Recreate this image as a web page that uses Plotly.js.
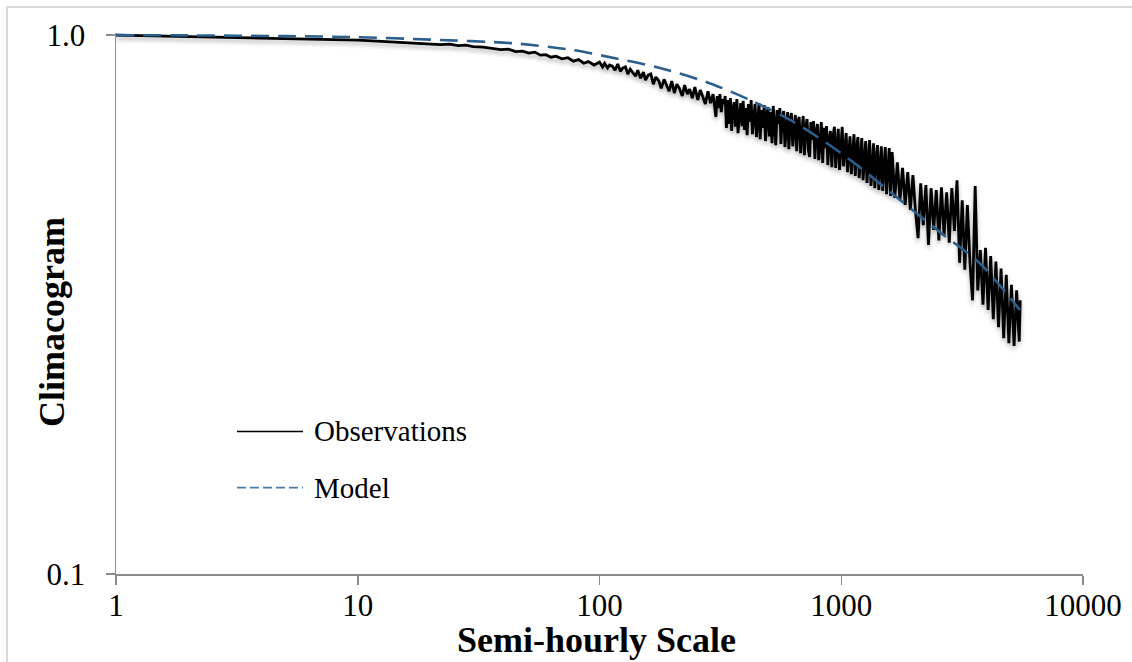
<!DOCTYPE html>
<html>
<head>
<meta charset="utf-8">
<script src="https://cdn.plot.ly/plotly-3.0.1.min.js"></script>
<style>
  html, body { margin: 0; padding: 0; background: #ffffff; }
  #frame { position: absolute; left: 6px; top: 6px; right: 0; bottom: 0;
           border-top: 2px solid #d9d9d9; border-left: 2px solid #d9d9d9; pointer-events: none; }
  #chart { width: 1132px; height: 662px; }
  .obs-shadow path.js-line { filter: drop-shadow(0px 3px 2px rgba(0,0,0,0.3)); }
</style>
</head>
<body>
<div id="chart"></div>
<div id="frame"></div>
<script>
// ---- Data ----
// Observations: semi-hourly scale k and climacogram value
const obsScale = [
  1,2,3,4,5,6,8,10,12,14, 16,18,20,22,24,26,28,30,33,36, 39,42,45,48,51,54,57,60,63,66, 70,74,78,82,86,90,95,100,
  103,105,108,110,113,116,119,122,125,128, 131,134,137,141,144,148,152,155,159,163,
  167,171,176,180,185,189,194,199,204,209, 214,220,225,231,236,242,248,255,261,268, 274,281,288,295,300,
  303,307,311,315,319,323,327,331,335,339,
  343,348,352,356,361,365,370,374,379,384,
  389,393,398,403,408,413,419,424,429,435,
  440,446,451,457,462,468,474,480,486,492,
  498,504,510,517,523,530,536,543,550,557,
  563,570,578,585,592,600,607,615,622,630,
  638,646,654,662,670,679,687,696,704,713,
  722,731,740,749,759,768,778,787,797,807,
  817,827,838,848,859,869,880,891,902,914,
  925,937,948,960,972,984,997,1009,1022,1035,
  1048,1061,1074,1087,1101,1115,1129,1143,1157,1172,
  1186,1201,1216,1231,1247,1262,1278,1294,1310,1327,
  1343,1360,1377,1394,1412,1430,1447,1465,1484,1502,
  1521,1540,1559,1579,
  1600,1624,1665,1707,1749,1793,1838,1884,1931,1979,
  2029,2079,2131,2185,2239,2295,2353,2412,2472,2534,
  2597,2662,2729,2797,2867,2939,3012,3087,3165,3244,
  3325,3408,3493,3581,3670,3762,3856,3952,4051,4152,
  4256,4363,4472,4583,4698,4815,4936,5059,5186,5315,
  5448,5500];
const obsValue = [
  1.000,0.994,0.989,0.987,0.985,0.984,0.982,0.979,0.975,0.971, 0.968,0.966,0.964,0.960,0.962,0.956,0.958,0.952,0.950,0.946,
  0.940,0.942,0.932,0.934,0.926,0.930,0.918,0.920,0.910,0.914, 0.904,0.908,0.895,0.901,0.887,0.893,0.880,0.891,
  .873,.887,.869,.880,.876,.861,.884,.857,.869,.873, .847,.865,.854,.839,.861,.832,.854,.825,.843,.847,
  .811,.836,.822,.797,.828,.808,.787,.822,.781,.811, .797,.771,.808,.777,.794,.764,.801,.758,.791,.767, .745,.787,.748,.777,.739,
  .705,.771,.732,.777,.720,.761,.745,.771,.673,.758,
  .684,.764,.664,.726,.751,.676,.761,.658,.711,.748,
  .678,.755,.667,.732,.652,.745,.690,.758,.655,.720,
  .745,.647,.702,.748,.641,.726,.673,.742,.636,.708,
  .735,.649,.720,.630,.739,.664,.625,.726,.684,.732,
  .628,.702,.723,.620,.681,.720,.614,.696,.717,.622,
  .664,.711,.609,.690,.705,.604,.652,.708,.599,.673,
  .699,.612,.594,.690,.639,.693,.589,.661,.684,.586,
  .625,.690,.579,.673,.617,.678,.574,.639,.664,.569,
  .649,.676,.567,.612,.670,.562,.639,.676,.571,.625,
  .658,.557,.612,.649,.552,.599,.655,.548,.617,.647,
  .543,.586,.644,.538,.579,.636,.532,.591,.639,.525,
  .562,.630,.520,.586,.625,.516,.557,.622,.514,.574,
  .620,.507,.548,.617,
  .503,.607,.499,.581,.494,.567,.484,.557,.474,.550,
  .470,.420,.531,.444,.527,.408,.520,.435,.516,.416,
  .522,.425,.511,.412,.520,.433,.538,.378,.494,.367,
  .484,.378,.322,.525,.336,.399,.316,.403,.309,.389,
  .297,.380,.287,.369,.274,.359,.268,.344,.265,.336,
  .270,.322];

// Model curve
const modelScale = [1,2,5,10,20,44,78,120,173,278,419,614,873,1161,1592,2560,3750,5485];
const modelValue = [1.000,0.999,0.996,0.9915,0.981,0.966,0.938,0.903,0.872,0.818,0.758,0.696,0.630,0.574,0.512,0.431,0.377,0.309];

const xTickVals = [1,10,100,1000,10000];
const xTickText = ['1','10','100','1000','10000'];
const yTickVals = [0.1,1];
const yTickText = ['0.1','1.0'];
const seriesNames = ['Observations','Model'];
const xTitle = 'Semi-hourly Scale';
const yTitle = 'Climacogram';

const serif = '"Liberation Serif", "Times New Roman", serif';
const axisGray = '#8c8c8c';
const modelColor = '#2C5F8E';

const traces = [
  { x: obsScale, y: obsValue, type: 'scatter', mode: 'lines', name: seriesNames[0],
    line: { color: '#000000', width: 2.8 }, showlegend: false },
  { x: modelScale, y: modelValue, type: 'scatter', mode: 'lines', name: seriesNames[1],
    line: { color: modelColor, width: 2.6, dash: '18px,9px', shape: 'spline', smoothing: 0.8 }, showlegend: false }
];

// legend drawn manually to match the long line samples of the reference
const lg = { x0: 0.1251, x1: 0.1934, tx: 0.2027, y1: 0.2635, y2: 0.1596 };

const layout = {
  width: 1132, height: 662,
  margin: { l: 116, r: 49, t: 33, b: 88, pad: 0 },
  paper_bgcolor: '#ffffff', plot_bgcolor: '#ffffff',
  font: { family: serif, color: '#000000', size: 31 },
  showlegend: false,
  xaxis: {
    type: 'log', range: [0, 4], showgrid: false, zeroline: false,
    showline: true, linecolor: axisGray, linewidth: 1.5,
    ticks: 'outside', ticklen: 9, tickwidth: 1.5, tickcolor: axisGray,
    tickvals: xTickVals, ticktext: xTickText, ticklabelstandoff: -6,
    tickfont: { family: serif, size: 31, color: '#000' }
  },
  yaxis: {
    type: 'log', range: [-1, 0.004], showgrid: false, zeroline: false,
    showline: true, linecolor: axisGray, linewidth: 1.5,
    ticks: 'outside', ticklen: 9, tickwidth: 1.5, tickcolor: axisGray,
    tickvals: yTickVals, ticktext: yTickText, ticklabelstandoff: 14,
    tickfont: { family: serif, size: 31, color: '#000' }
  },
  shapes: [
    { type: 'line', xref: 'paper', yref: 'paper', x0: lg.x0, x1: lg.x1, y0: lg.y1, y1: lg.y1,
      line: { color: '#000000', width: 1.6 } },
    { type: 'line', xref: 'paper', yref: 'paper', x0: lg.x0, x1: lg.x1, y0: lg.y2, y1: lg.y2,
      line: { color: '#4a7aa8', width: 1.6, dash: '9px,4px' } }
  ],
  annotations: [
    { xref: 'paper', yref: 'paper', x: lg.tx, y: lg.y1, xanchor: 'left', yanchor: 'middle',
      text: seriesNames[0], showarrow: false, font: { family: serif, size: 29, color: '#000' } },
    { xref: 'paper', yref: 'paper', x: lg.tx, y: lg.y2, xanchor: 'left', yanchor: 'middle',
      text: seriesNames[1], showarrow: false, font: { family: serif, size: 29, color: '#000' } },
    { xref: 'paper', yref: 'paper', x: 0.4964, y: -0.1225, xanchor: 'center', yanchor: 'middle',
      text: '<b>' + xTitle + '</b>', showarrow: false, font: { family: serif, size: 36, color: '#000' } },
    { xref: 'paper', yref: 'paper', x: -0.0662, y: 0.4657, xanchor: 'center', yanchor: 'middle', textangle: -90,
      text: '<b>' + yTitle + '</b>', showarrow: false, font: { family: serif, size: 36, color: '#000' } }
  ]
};

Plotly.newPlot('chart', traces, layout, { staticPlot: true, displayModeBar: false }).then(function (gd) {
  const tr = gd.querySelectorAll('.scatterlayer .trace');
  if (tr.length) tr[0].classList.add('obs-shadow');
});
</script>
</body>
</html>
